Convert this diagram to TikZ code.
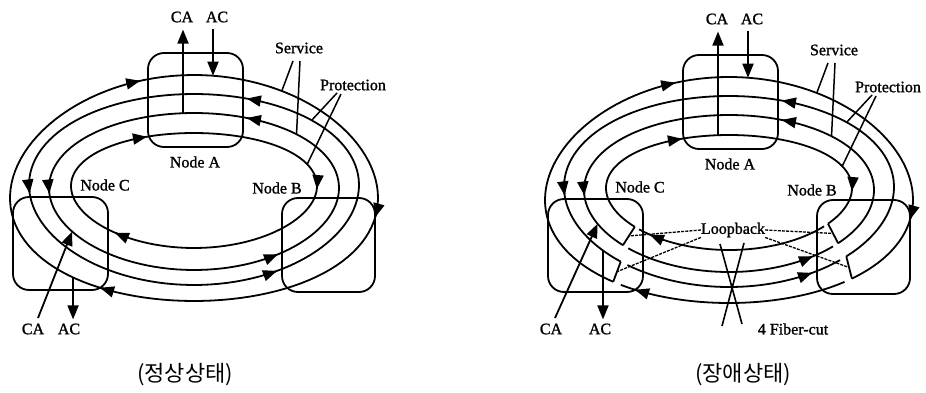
\documentclass[tikz,border=0pt]{standalone}
\usepackage{fontspec}
\setmainfont{Liberation Serif}[RawFeature={embolden=1.3}]
\newfontfamily\korfont{Noto Sans CJK KR}
\usetikzlibrary{arrows.meta,calc}

% Fibre ring k:  x = 194 + a cos t,  y = cy - b sin t + c cos 2t  (y grows downward)
\newcommand\SetRing[5]{%
  \expandafter\def\csname ra#1\endcsname{#2}%
  \expandafter\def\csname rb#1\endcsname{#3}%
  \expandafter\def\csname rcy#1\endcsname{#4}%
  \expandafter\def\csname rc#1\endcsname{#5}}
\SetRing{1}{184}{113}{193}{5}        % outer
\SetRing{2}{165}{95.5}{187.25}{-2.25}
\SetRing{3}{145}{78.5}{189.75}{-1.75}
\SetRing{4}{123}{57.5}{188.25}{-2.25} % inner

\newcommand\RX[2]{194+\csname ra#1\endcsname*cos(#2)}
\newcommand\RY[2]{\csname rcy#1\endcsname-\csname rb#1\endcsname*sin(#2)+(\csname rc#1\endcsname)*cos(2*(#2))}
\newcommand\RingArc[3]{\draw[fiber] plot[domain=#2:#3,samples=120,variable=\t] ({\RX{#1}{\t}},{\RY{#1}{\t}});}
\newcommand\RingPoint[3]{\coordinate (#1) at ({\RX{#2}{#3}},{\RY{#2}{#3}});}
\newcommand\RingArrow[3]{\draw[fiber,arrowtip] ({\RX{#1}{#2}},{\RY{#1}{#2}}) -- ({\RX{#1}{#3}},{\RY{#1}{#3}});}

% direction marks on the four rings
\newcommand\RingArrows{%
  \RingArrow{1}{107.6}{107}\RingArrow{1}{-9.4}{-10}\RingArrow{1}{239.9}{239.3}%
  \RingArrow{4}{113.1}{112.5}\RingArrow{4}{-2.4}{-3}\RingArrow{4}{230.6}{230}%
  \RingArrow{2}{70.7}{71.3}\RingArrow{2}{184.4}{185}\RingArrow{2}{299.6}{300.2}%
  \RingArrow{3}{68}{68.6}\RingArrow{3}{183.4}{184}\RingArrow{3}{304.8}{305.4}}

% node boxes, labels, add/drop at node A, service/protection leaders
% #1 prefix, #2 ring that feeds CA at node A, #3 its angle
\newcommand\NetFrame[3]{%
  \node[box,minimum width=95pt,minimum height=94pt] (#1A) at (195.5,100) {};
  \node[box,minimum width=95pt,minimum height=93pt] (#1C) at (60.5,243.5) {};
  \node[box,minimum width=93pt,minimum height=94pt] (#1B) at (328.5,245) {};
  \node[lbl] (#1Atxt) at (195,162) {Node A};
  \node[lbl] (#1Ctxt) at (105,185) {Node C};
  \node[lbl] (#1Btxt) at (277,188) {Node B};
  \node[lbl] (#1CAt) at (182,17) {CA};
  \node[lbl] (#1ACt) at (217,17) {AC};
  \node[lbl] (#1Sv) at (299,48) {Service};
  \node[lbl] (#1Pr) at (353,85) {Protection};
  \RingPoint{#1caTop}{#2}{#3}
  \draw[fiber,arrowtip,shorten >=7pt] (#1caTop) -- (#1caTop |- #1CAt.south);
  \RingPoint{#1acTop}{1}{84.07}
  \draw[fiber,arrowtip,shorten <=6pt] (#1acTop |- #1ACt.south) -- (#1acTop);
  \coordinate (#1sv1) at (293,61);
  \coordinate (#1sv2) at (300,61);
  \RingPoint{#1svA}{1}{61.5}
  \RingPoint{#1svB}{3}{45}
  \draw[lead] (#1sv1) -- (#1svA);
  \draw[lead] (#1sv2) -- (#1svB);
  \coordinate (#1pr1) at (337,93);
  \coordinate (#1pr2) at (341,94);
  \RingPoint{#1prA}{2}{44.5}
  \RingPoint{#1prB}{4}{23}
  \draw[lead] (#1pr1) -- (#1prA);
  \draw[lead] (#1pr2) -- (#1prB);
}

\begin{document}
\begin{tikzpicture}[x=1pt,y=-1pt,
  fiber/.style={line width=1.8pt,line join=round},
  box/.style={draw,line width=1.8pt,rounded corners=16pt,inner sep=0pt},
  lbl/.style={font=\fontsize{16}{18}\selectfont,inner sep=0pt},
  arrowtip/.style={-{Triangle[length=14pt,width=11pt]}},
  lead/.style={line width=1.5pt},
  loopline/.style={line width=1.3pt,dash pattern=on 3pt off 1.2pt},
  cutline/.style={line width=1.6pt},
  kor/.style={font=\korfont\fontsize{22}{24}\selectfont,inner sep=0pt}]
\useasboundingbox (0,0) rectangle (926,393);

% ---------- normal state ----------
\begin{scope}
  \RingArc{1}{0}{360}
  \RingArc{2}{0}{360}
  \RingArc{3}{0}{360}
  \RingArc{4}{0}{360}
  \RingArrows
  \NetFrame{L}{3}{94.35}
  \node[lbl] (LCAb) at (33,329) {CA};
  \node[lbl] (LACb) at (69,329) {AC};
  \coordinate (LcaFoot) at (38,318);
  \RingPoint{LcaHead}{3}{212.8}
  \draw[fiber,arrowtip] (LcaFoot) -- (LcaHead);
  \RingPoint{LacTop}{1}{228.9}
  \draw[fiber,arrowtip,shorten >=4pt] (LacTop) -- (LacTop |- LACb.north);
\end{scope}

% ---------- failure state: loopback at C and B ----------
\begin{scope}[shift={(535,2)}]
  \RingArc{4}{-36.4}{220}\RingArc{4}{223}{320.6}
  \RingArc{3}{-41.2}{223}\RingArc{3}{226}{315.8}
  \RingArc{2}{-44.7}{229}\RingArc{2}{232}{312.3}
  \RingArc{1}{-48.1}{231}\RingArc{1}{234}{308.9}
  \RingArrows
  \NetFrame{R}{4}{95.13}
  % loopback brackets
  \RingPoint{RcU4}{4}{220}\RingPoint{RcU3}{3}{223}
  \RingPoint{RcL2}{2}{229}\RingPoint{RcL1}{1}{231}
  \RingPoint{RbU4}{4}{-36.4}\RingPoint{RbU3}{3}{-41.2}
  \RingPoint{RbL2}{2}{-44.7}\RingPoint{RbL1}{1}{-48.1}
  \draw[fiber] (RcU4) -- (RcU3);
  \draw[fiber] (RcL2) -- (RcL1);
  \draw[fiber] (RbU4) -- (RbU3);
  \draw[fiber] (RbL2) -- (RbL1);
  \coordinate (RcUm) at ($(RcU4)!.5!(RcU3)$);
  \coordinate (RcLm) at ($(RcL2)!.5!(RcL1)$);
  \coordinate (RbUm) at ($(RbU4)!.5!(RbU3)$);
  \coordinate (RbLm) at ($(RbL2)!.5!(RbL1)$);
  % add/drop at node C
  \node[lbl] (RCAb) at (16,327) {CA};
  \node[lbl] (RACb) at (65,327) {AC};
  \coordinate (RcaFoot) at (20,316);
  \RingPoint{RcaHead}{3}{205}
  \draw[fiber,arrowtip] (RcaFoot) -- (RcaHead);
  \RingPoint{RacTop}{2}{220.2}
  \draw[fiber,arrowtip,shorten >=4pt] (RacTop) -- (RacTop |- RACb.north);
\end{scope}

\node[lbl] (loop) at (733,230) {Loopback};
\draw[loopline] (loop.west) -- (RcUm);
\draw[loopline] (loop.south west) -- (RcLm);
\draw[loopline] (loop.east) -- (RbUm);
\draw[loopline] (loop.south east) -- (RbLm);

% fibre cut between C and B
\coordinate (cut1a) at (720,244);
\coordinate (cut1b) at (742,324);
\coordinate (cut2a) at (744,243);
\coordinate (cut2b) at (722,326);
\draw[cutline] (cut1a) -- (cut1b);
\draw[cutline] (cut2a) -- (cut2b);
\node[lbl] (cutlbl) at (793,329) {4 Fiber-cut};

\node[kor] (stateN) at (185,375) {(정상상태)};
\node[kor] (stateF) at (743,375) {(장애상태)};
\end{tikzpicture}
\end{document}
